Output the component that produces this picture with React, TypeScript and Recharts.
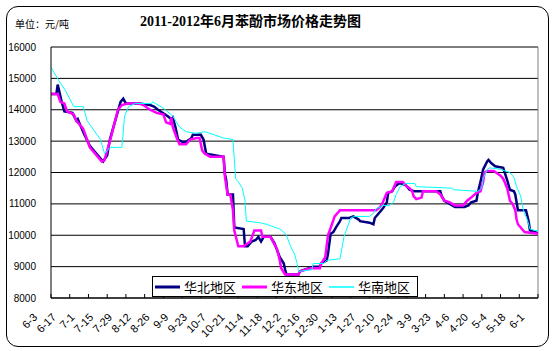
import { LineChart, Line, XAxis, YAxis, CartesianGrid, ReferenceLine, Legend } from "recharts";

// x values are days counted from 2011-06-03
const dateLabels = [
  "6-3", "6-17", "7-1", "7-15", "7-29", "8-12", "8-26", "9-9", "9-23", "10-7",
  "10-21", "11-4", "11-18", "12-2", "12-16", "12-30", "1-13", "1-27", "2-10", "2-24",
  "3-9", "3-23", "4-6", "4-20", "5-4", "5-18", "6-1",
];
const labelStepDays = 14;
const priceTicks = [8000, 9000, 10000, 11000, 12000, 13000, 14000, 15000, 16000];

const northDays = [
  0, 4, 5, 8, 10, 16, 19, 20, 22, 25, 29, 35, 39, 42, 44, 52, 54, 56, 66, 74,
  77, 80, 87, 90, 91, 93, 95, 98, 101, 105, 106, 112, 114, 116, 129, 130, 131, 132, 136, 137,
  144, 145, 147, 150, 153, 155, 157, 159, 164, 167, 171, 174, 175, 176, 185, 186, 196, 201, 202, 206,
  207, 209, 211, 213, 216, 217, 223, 226, 230, 231, 238, 241, 242, 245, 248, 251, 252, 255, 257, 260,
  262, 265, 268, 272, 291, 292, 294, 298, 302, 309, 312, 314, 318, 319, 321, 323, 326, 327, 329, 332,
  338, 341, 343, 346, 347, 349, 355, 357, 358, 362, 364,
];
const northPrices = [
  14500, 14500, 14800, 14250, 13950, 13900, 13650, 13700, 13500, 13200, 12850, 12550, 12350, 12550, 13050, 14250, 14350, 14200, 14200, 14150,
  14100, 14000, 13800, 13700, 13750, 13450, 13050, 12980, 12980, 13100, 13200, 13200, 13050, 12600, 12500, 11950, 11750, 11300, 11300, 10250,
  10200, 9650, 9650, 9800, 9850, 9950, 9800, 9950, 9950, 9750, 9300, 9100, 8900, 8750, 8750, 8850, 9000, 9000, 9100, 9200,
  9400, 10050, 10100, 10250, 10450, 10550, 10550, 10600, 10500, 10450, 10400, 10350, 10550, 10700, 10850, 11050, 11350, 11400, 11550, 11650,
  11650, 11600, 11450, 11400, 11400, 11250, 11100, 11000, 10900, 10900, 10950, 11050, 11100, 11350, 11700, 12100, 12350, 12400, 12300, 12200,
  12150, 11750, 11450, 11400, 11300, 10800, 10800, 10450, 10150, 10100, 10050,
];

const eastDays = [
  0, 5, 7, 10, 12, 17, 19, 24, 27, 29, 33, 38, 40, 45, 50, 53, 57, 66, 69, 74,
  79, 84, 86, 89, 90, 91, 94, 96, 101, 104, 109, 111, 113, 115, 119, 129, 130, 132, 134, 136,
  137, 140, 144, 149, 152, 157, 158, 164, 169, 171, 172, 175, 185, 186, 194, 201, 202, 205, 207, 210,
  212, 216, 243, 246, 248, 251, 255, 257, 258, 263, 266, 268, 270, 271, 273, 277, 278, 288, 291, 294,
  298, 302, 308, 311, 314, 318, 321, 323, 324, 326, 331, 336, 338, 341, 343, 345, 347, 348, 349, 352,
  354, 364,
];
const eastPrices = [
  14500, 14500, 14250, 14200, 13950, 13850, 13650, 13400, 13050, 12800, 12600, 12350, 12400, 13150, 14000, 14150, 14200, 14200, 14150, 14000,
  13900, 13850, 13600, 13550, 13750, 13450, 13100, 12900, 12900, 13050, 13100, 13100, 12700, 12600, 12500, 12500, 11850, 11300, 11300, 10800,
  10150, 9650, 9650, 9800, 10150, 10150, 9950, 9950, 9550, 9200, 8950, 8750, 8750, 8850, 8950, 8950, 9100, 9300, 10000, 10350,
  10600, 10800, 10800, 10900, 11050, 11350, 11400, 11600, 11700, 11700, 11550, 11500, 11400, 11250, 11150, 11200, 11400, 11400, 11300, 11100,
  11050, 10950, 10950, 11100, 11200, 11350, 11400, 11700, 12000, 12050, 12050, 11900, 11800, 11500, 11100, 11000, 10800, 10500, 10350, 10200,
  10100, 10050,
];

const southDays = [
  0, 7, 11, 17, 24, 27, 32, 37, 40, 44, 53, 55, 58, 63, 75, 76, 84, 91, 96, 101,
  108, 115, 129, 136, 138, 140, 143, 145, 146, 156, 161, 171, 174, 176, 179, 182, 184, 185, 195, 196,
  204, 206, 216, 219, 224, 227, 238, 241, 243, 246, 248, 253, 256, 258, 261, 265, 272, 273, 300, 301,
  319, 322, 323, 326, 328, 336, 343, 346, 348, 351, 353, 356, 358, 362, 364,
];
const southPrices = [
  15350, 14850, 14600, 14100, 14100, 13650, 13350, 13050, 12600, 12800, 12800, 13800, 14100, 14200, 14200, 14250, 14050, 13800, 13450, 13300,
  13250, 13300, 13100, 13050, 11800, 11700, 11500, 11100, 10450, 10400, 10350, 10200, 10100, 10000, 9650, 9400, 9100, 8850, 8900, 9100,
  9100, 9200, 9250, 9950, 10550, 10600, 10600, 10700, 10850, 10900, 10950, 10950, 11050, 11300, 11550, 11650, 11650, 11550, 11500, 11450,
  11400, 11500, 11800, 12100, 12150, 12100, 12000, 11850, 11550, 11250, 10800, 10500, 10200, 10150, 10150,
];

const toPoints = (days: number[], prices: number[]) =>
  days.map((day, i) => ({ day, price: prices[i] }));

const series = [
  { name: "华北地区", color: "#000080", width: 2.5, data: toPoints(northDays, northPrices) },
  { name: "华东地区", color: "#FF00FF", width: 2.5, data: toPoints(eastDays, eastPrices) },
  { name: "华南地区", color: "#00FFFF", width: 1, data: toPoints(southDays, southPrices) },
];

const latin = '"Liberation Sans", Arial, sans-serif';
const cjk = '"Noto Sans CJK SC", "Liberation Sans", sans-serif';

function DateTick({ x, y, payload }: any) {
  const label = dateLabels[Math.round(payload.value / labelStepDays)];
  const ax = x - 13;
  const ay = y + 20;
  return (
    <g>
      <line x1={x} y1={y} x2={x} y2={y - 4} stroke="#000" />
      <text
        x={ax}
        y={ay}
        transform={`rotate(-45 ${ax} ${ay})`}
        textAnchor="end"
        fontSize={11}
        fontFamily={latin}
        fill="#000"
      >
        {label}
      </text>
    </g>
  );
}

function LegendBox() {
  return (
    <div
      style={{
        boxSizing: "border-box",
        width: 266,
        height: 21,
        border: "1px solid #000",
        background: "#fff",
        display: "flex",
        alignItems: "center",
        fontFamily: cjk,
        fontSize: 13,
        color: "#000",
      }}
    >
      {series.map((s, i) => (
        <span key={s.name} style={{ display: "flex", alignItems: "center", marginLeft: i === 0 ? 2 : 6 }}>
          <svg width={25} height={6} style={{ marginRight: 4 }}>
            <line x1={0} y1={3} x2={25} y2={3} stroke={s.color} strokeWidth={s.width + 0.5} />
          </svg>
          <span style={{ lineHeight: "19px" }}>{s.name}</span>
        </span>
      ))}
    </div>
  );
}

export default function App() {
  return (
    <div style={{ position: "absolute", left: 0, top: 0, width: 553, height: 351, background: "#fff" }}>
      <div
        style={{
          position: "absolute",
          left: 6,
          top: 6,
          width: 541,
          height: 339,
          border: "1.5px solid #000",
          borderRadius: 12,
        }}
      />
      <div
        style={{
          position: "absolute",
          left: 140,
          top: 14,
          fontFamily: '"Liberation Serif", "Noto Sans CJK SC", serif',
          fontWeight: "bold",
          fontSize: 14,
          lineHeight: "16px",
          whiteSpace: "nowrap",
        }}
      >
        2011-2012年6月苯酚市场价格走势图
      </div>
      <div
        style={{
          position: "absolute",
          left: 15,
          top: 18,
          fontFamily: cjk,
          fontSize: 10,
          lineHeight: "12px",
          whiteSpace: "nowrap",
        }}
      >
        单位：元/吨
      </div>
      <div style={{ position: "absolute", left: 0, top: 0 }}>
        <LineChart width={553} height={351} margin={{ top: 47, right: 15, bottom: 0, left: 0 }}>
          <CartesianGrid vertical={false} stroke="#000" strokeWidth={1} />
          <XAxis
            dataKey="day"
            type="number"
            domain={[0, (dateLabels.length - 1) * labelStepDays]}
            ticks={dateLabels.map((_, i) => i * labelStepDays)}
            interval={0}
            height={53}
            tickLine={false}
            tickSize={0}
            tickMargin={0}
            axisLine={{ stroke: "#000" }}
            tick={<DateTick />}
            allowDataOverflow
          />
          <YAxis
            dataKey="price"
            type="number"
            domain={[8000, 16000]}
            ticks={priceTicks}
            interval={0}
            width={51}
            tickLine={false}
            tickSize={0}
            tickMargin={15}
            axisLine={{ stroke: "#000" }}
            tick={{ fontSize: 10, fill: "#000", fontFamily: latin }}
            allowDataOverflow
          />
          <ReferenceLine y={16000} stroke="#808080" />
          <ReferenceLine x={(dateLabels.length - 1) * labelStepDays} stroke="#808080" />
          {series.map((s) => (
            <Line
              key={s.name}
              data={s.data}
              dataKey="price"
              name={s.name}
              type="linear"
              stroke={s.color}
              strokeWidth={s.width}
              dot={false}
              activeDot={false}
              isAnimationActive={false}
            />
          ))}
          <Legend
            layout="horizontal"
            verticalAlign="middle"
            align="center"
            content={<LegendBox />}
            wrapperStyle={{ left: 152, top: 276, width: 266, height: 21 }}
          />
        </LineChart>
      </div>
    </div>
  );
}
